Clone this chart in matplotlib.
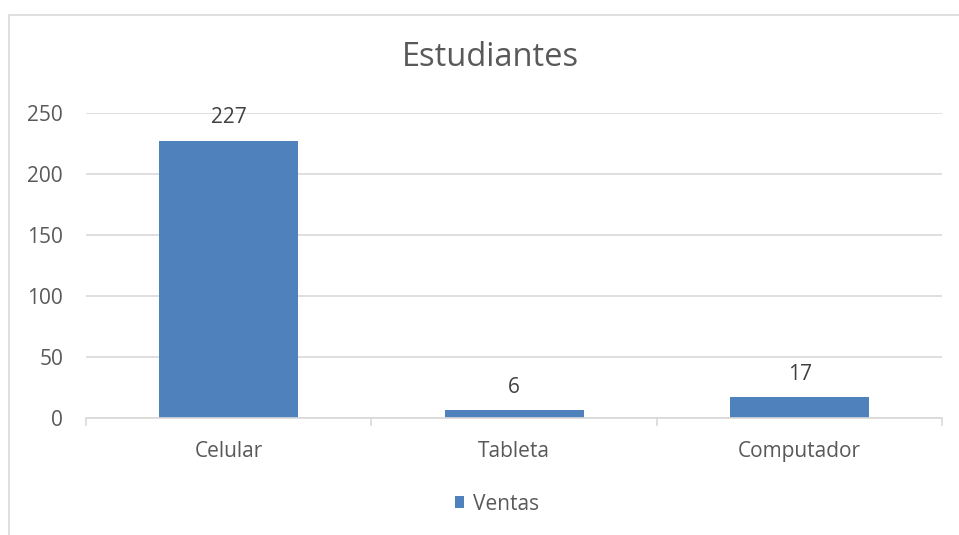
import matplotlib.pyplot as plt
from matplotlib.patches import Rectangle

categorias = ["Celular", "Tableta", "Computador"]
ventas = [227, 6, 17]
ticks_y = [0, 50, 100, 150, 200, 250]

azul = "#4f81bd"
gris_texto = "#595959"
gris_linea = "#d9d9d9"

plt.rcParams["font.family"] = ["Open Sans", "DejaVu Sans"]

fig = plt.figure(figsize=(9.59, 5.35), dpi=100)
W, H = 959, 535

# borde del grafico (se sale por la derecha y por abajo)
fig.patches.append(Rectangle((9 / W, -0.2), 1.2, 1.2 - 15 / H, transform=fig.transFigure,
                             fill=False, edgecolor=gris_linea, linewidth=1.2))

ax = fig.add_axes([86 / W, 1 - 417.7 / H, (942.3 - 86) / W, (417.7 - 112.7) / H])

x = range(len(categorias))
barras = ax.bar(x, ventas, width=0.487, color=azul, zorder=2, label="Ventas")

ax.set_xlim(-0.5, len(categorias) - 0.5)
ax.set_ylim(0, 250)
ax.set_yticks(ticks_y)
ax.set_xticks(list(x))
ax.set_xticklabels(categorias)

ax.grid(axis="y", color=gris_linea, linewidth=1.2, zorder=0)
for lado in ["top", "right", "left"]:
    ax.spines[lado].set_visible(False)
ax.spines["bottom"].set_color(gris_linea)
ax.spines["bottom"].set_linewidth(1.2)
ax.spines["bottom"].set_zorder(3)

# marcas entre categorias
ax.tick_params(axis="x", length=0, pad=16.5, labelsize=15, labelcolor=gris_texto)
ax.tick_params(axis="y", length=0, pad=16.5, labelsize=15, labelcolor=gris_texto)
ax.set_xticks([-0.5, 0.5, 1.5, 2.5], minor=True)
ax.tick_params(axis="x", which="minor", length=6, color=gris_linea, width=1.2)

for b, v in zip(barras, ventas):
    ax.annotate(str(v), (b.get_x() + b.get_width() / 2, v), xytext=(0, 16.5),
                textcoords="offset points", ha="center", va="center",
                fontsize=15, color="#404040")

fig.text(490 / W, 1 - 58 / H, "Estudiantes", ha="center", va="center",
         fontsize=23.5, color=gris_texto)

fig.legend(handles=[barras], labels=["Ventas"], loc="center", bbox_to_anchor=(497 / W, 1 - 504 / H),
           frameon=False, fontsize=15, labelcolor=gris_texto, handlelength=0.45, handleheight=0.45,
           handletextpad=0.4)

fig.savefig("out.png", dpi=100)
